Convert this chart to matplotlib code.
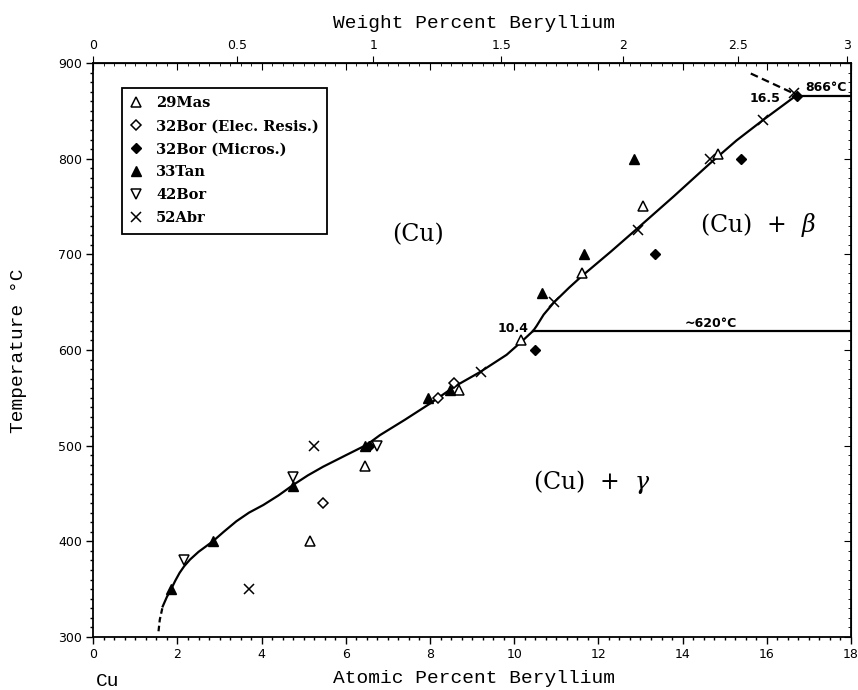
import numpy as np
import matplotlib
matplotlib.use('Agg')
import matplotlib.pyplot as plt
from matplotlib.ticker import MultipleLocator, NullFormatter

# Experimental data (atomic % Be, temperature in C)
mas_x = [5.15, 6.45, 8.7, 10.15, 11.6, 13.05, 14.85]
mas_y = [400, 479, 558, 610, 680, 750, 805]
elec_x = [5.45, 8.2, 8.57]
elec_y = [440, 550, 565]
micro_x = [6.55, 10.5, 13.35, 15.38, 16.72]
micro_y = [500, 600, 700, 800, 866]
tan_x = [1.85, 2.85, 4.75, 6.45, 7.95, 8.47, 10.65, 11.65, 12.85]
tan_y = [350, 400, 458, 500, 550, 558, 660, 700, 800]
bor42_x = [2.15, 4.75, 6.75]
bor42_y = [380, 467, 500]
abr_x = [3.7, 5.25, 9.2, 10.95, 12.95, 14.65, 15.9, 16.65]
abr_y = [350, 500, 577, 650, 725, 800, 840, 869]

# Phase boundaries
solvus_dash_x = [1.55, 1.58, 1.62, 1.65]
solvus_dash_y = [306, 318, 326, 332]
solvus_x = [1.65, 1.75, 1.85, 1.95, 2.05, 2.16, 2.3, 2.5, 2.84, 3.1, 3.4, 3.7, 4.04,
            4.4, 4.75, 5.1, 5.46, 6.0, 6.5, 6.81, 7.4, 8.0, 8.59, 9.19, 9.82, 10.18, 10.45]
solvus_y = [332, 342, 350, 359, 367, 374, 381, 389, 400, 410, 421, 430, 438,
            448, 459, 469, 478, 490, 501, 511, 527, 544, 562, 577, 595, 609, 620]
upper_x = [10.45, 10.53, 10.7, 10.95, 11.3, 11.6, 12.3, 12.95, 13.8, 14.65, 15.28, 15.9, 16.7]
upper_y = [620, 625, 637, 650, 665, 677, 703, 728, 761, 795, 819, 840, 866]
beta_dash_x = [15.62, 16.65]
beta_dash_y = [889, 868]
eutectoid_x = [10.45, 18]
eutectoid_y = [620, 620]
peritectic_x = [16.7, 18]
peritectic_y = [866, 866]

wt_ticks = [0, 0.5, 1, 1.5, 2, 2.5, 3]
wt_labels = ['0', '0.5', '1', '1.5', '2', '2.5', '3']

M_BE = 9.012
M_CU = 63.546


def at2wt(a):
    a = np.clip(np.asarray(a, dtype=float), 0, 100)
    return 100 * a * M_BE / (a * M_BE + (100 - a) * M_CU)


def wt2at(w):
    w = np.clip(np.asarray(w, dtype=float), 0, 100)
    return 100 * (w / M_BE) / (w / M_BE + (100 - w) / M_CU)


plt.rcParams['mathtext.fontset'] = 'dejavuserif'

fig = plt.figure(figsize=(8.58, 6.9), dpi=100)
ax = fig.add_axes([0.1087, 0.0768, 0.8831, 0.8319])

lw = 1.6
ax.plot(solvus_dash_x, solvus_dash_y, color='black', lw=lw, ls=(0, (2.5, 1.5)))
ax.plot(solvus_x, solvus_y, color='black', lw=lw)
ax.plot(upper_x, upper_y, color='black', lw=lw)
ax.plot(beta_dash_x, beta_dash_y, color='black', lw=lw, ls=(0, (3.5, 2)))
ax.plot(eutectoid_x, eutectoid_y, color='black', lw=lw)
ax.plot(peritectic_x, peritectic_y, color='black', lw=lw)

ax.plot(mas_x, mas_y, ls='none', marker='^', ms=6.5, mfc='white', mec='black', mew=1.1,
        label='29Mas')
ax.plot(elec_x, elec_y, ls='none', marker='D', ms=5, mfc='white', mec='black', mew=1.1,
        label='32Bor (Elec. Resis.)')
ax.plot(micro_x, micro_y, ls='none', marker='D', ms=5.5, mfc='black', mec='black',
        label='32Bor (Micros.)')
ax.plot(tan_x, tan_y, ls='none', marker='^', ms=6.5, mfc='black', mec='black',
        label='33Tan')
ax.plot(bor42_x, bor42_y, ls='none', marker='v', ms=7, mfc='white', mec='black', mew=1.1,
        label='42Bor')
ax.plot(abr_x, abr_y, ls='none', marker='x', ms=7, mec='black', mew=1.1,
        label='52Abr')

ax.set_xlim(0, 18)
ax.set_ylim(300, 900)
ax.xaxis.set_major_locator(MultipleLocator(2))
ax.xaxis.set_minor_locator(MultipleLocator(0.25))
ax.yaxis.set_major_locator(MultipleLocator(100))
ax.yaxis.set_minor_locator(MultipleLocator(10))
ax.tick_params(which='both', direction='out', width=1, labelsize=9)
ax.tick_params(which='major', length=5, pad=3)
ax.tick_params(which='minor', length=2.5)
for s in ax.spines.values():
    s.set_linewidth(1.3)

# mirrored ticks pointing inwards on top and right
top = ax.secondary_xaxis('top')
top.xaxis.set_major_locator(MultipleLocator(2))
top.xaxis.set_minor_locator(MultipleLocator(0.25))
top.tick_params(which='both', direction='in', labeltop=False)
top.tick_params(which='major', length=5)
top.tick_params(which='minor', length=2.5)
right = ax.secondary_yaxis('right')
right.yaxis.set_major_locator(MultipleLocator(100))
right.yaxis.set_minor_locator(MultipleLocator(10))
right.tick_params(which='both', direction='in', labelright=False)
right.tick_params(which='major', length=5)
right.tick_params(which='minor', length=2.5)

# weight percent scale
wt = ax.secondary_xaxis('top', functions=(at2wt, wt2at))
wt.set_xticks(wt_ticks)
wt.set_xticklabels(wt_labels)
wt.xaxis.set_minor_formatter(NullFormatter())
wt.tick_params(which='major', direction='out', length=5, labelsize=9, pad=3)
wt.tick_params(which='minor', length=0)

mono = 'Liberation Mono'
fig.text(0.5525, 0.966, 'Weight Percent Beryllium', family=mono, fontsize=14,
         ha='center', va='center')
fig.text(0.5525, 0.016, 'Atomic Percent Beryllium', family=mono, fontsize=14,
         ha='center', va='center')
fig.text(0.125, 0.013, 'Cu', family=mono, fontsize=14, ha='center', va='center')
fig.text(0.021, 0.491, 'Temperature °C', family=mono, fontsize=14, rotation=90,
         ha='center', va='center')

# phase region labels
serif = 'DejaVu Serif'
ax.text(7.72, 720, '(Cu)', family=serif, fontsize=17, ha='center', va='center')
ax.text(15.8, 731, r'(Cu)  +  $\beta$', family=serif, fontsize=17, ha='center', va='center')
ax.text(11.84, 462, r'(Cu)  +  $\gamma$', family=serif, fontsize=17, ha='center', va='center')

ax.text(10.35, 622, '10.4', fontsize=9, fontweight='bold', ha='right', va='center')
ax.text(15.95, 863, '16.5', fontsize=9, fontweight='bold', ha='center', va='center')
ax.text(17.41, 874, '866°C', fontsize=9, fontweight='bold', ha='center', va='center')
ax.text(14.67, 628, '~620°C', fontsize=9, fontweight='bold', ha='center', va='center')

leg = ax.legend(loc='upper left', bbox_to_anchor=(0.0375, 0.956), borderaxespad=0,
                frameon=True, fancybox=False, edgecolor='black', framealpha=1,
                borderpad=0.55, labelspacing=0.62, handlelength=0.9, handletextpad=0.9,
                prop={'family': 'DejaVu Serif', 'weight': 'bold', 'size': 10.5})
leg.get_frame().set_linewidth(1.3)

fig.savefig('out.png', dpi=100)
